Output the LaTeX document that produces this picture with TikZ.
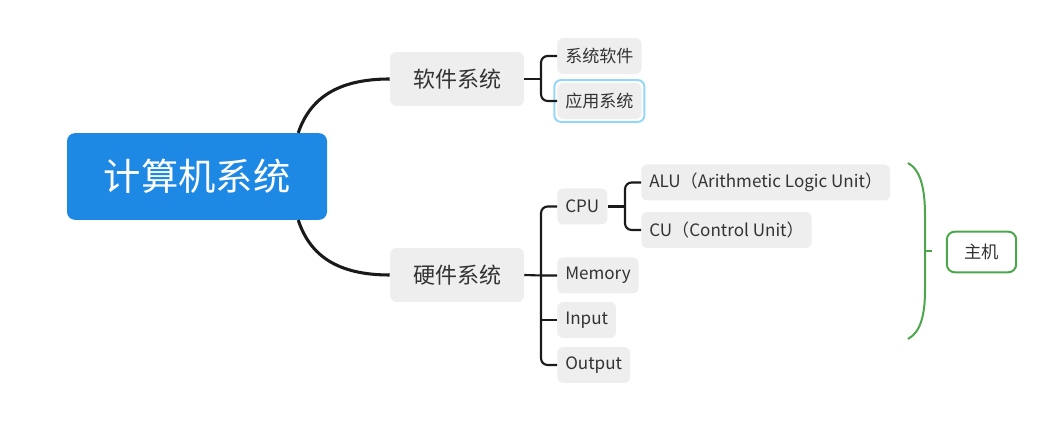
\documentclass[tikz,border=0pt]{standalone}
\usepackage{fontspec}
\setmainfont{Noto Sans CJK SC}
\usetikzlibrary{positioning, calc, fit}
\definecolor{rootblue}{HTML}{1E88E5}
\definecolor{leafgrey}{HTML}{EEEEEE}
\definecolor{selblue}{HTML}{94D6F7}
\definecolor{hostgreen}{HTML}{4CA64C}
\definecolor{inkgrey}{HTML}{333333}
\definecolor{linkblack}{HTML}{1A1A1A}

\begin{document}
\begin{tikzpicture}[x=0.75pt,y=-0.75pt,
  rootbox/.style={fill=rootblue,text=white,rounded corners=6pt,minimum width=195pt,minimum height=65pt,font=\fontsize{28}{30}\selectfont},
  mainbox/.style={fill=leafgrey,text=inkgrey,rounded corners=5pt,minimum width=100.5pt,minimum height=40.5pt,font=\fontsize{16.5}{18}\selectfont},
  leafbox/.style={fill=leafgrey,text=inkgrey,rounded corners=4.5pt,anchor=west,inner xsep=6pt,minimum height=27pt,font=\fontsize{12.8}{14}\selectfont},
  hostbox/.style={draw=hostgreen,line width=1.5pt,text=inkgrey,rounded corners=6pt,minimum width=52pt,minimum height=30.5pt,font=\fontsize{13}{15}\selectfont},
  bigline/.style={draw=linkblack,line width=2.3pt},
  subline/.style={draw=linkblack,line width=1.6pt,rounded corners=5pt}]
\useasboundingbox (0,0) rectangle (1051,427);
% Root and the two main branches
\node[rootbox](root) at (197,176.5){计算机系统};
\node[mainbox](soft) at (457,79){软件系统};
\node[mainbox](hard) at (457,275){硬件系统};
\draw[bigline] (root.north east) ++(-29,0) coordinate(rt) .. controls (310,98) and (338,79) .. (soft.west);
\draw[bigline] (root.south east) ++(-29,0) coordinate(rb) .. controls (310,256) and (338,275) .. (hard.west);
% Software leaves
\node[leafbox](sysw) at (557,56){系统软件};
\node[leafbox](app) at (557,101){应用系统};
\node[draw=selblue,line width=1.5pt,rounded corners=5pt,inner sep=2pt,fit=(app)](appsel){};
\coordinate (sj) at (541,79);
\draw[subline] (soft.east) -- (sj);
\draw[subline] (sysw.west) -| (sj) |- (app.west);
% Hardware leaves
\node[leafbox](cpu) at (557,206.5){CPU};
\node[leafbox](mem) at (557,275.5){Memory};
\node[leafbox](inp) at (557,320){Input};
\node[leafbox](outp) at (557,365){Output};
\coordinate (hj) at (541,275.5);
\draw[subline] (hard.east) -- (hj) -- (mem.west);
\draw[subline] (cpu.west) -| (hj) |- (outp.west);
\draw[subline] (inp.west) -- (inp.west -| hj);
% CPU parts
\node[leafbox](alu) at (641,182.5){ALU（Arithmetic Logic Unit）};
\node[leafbox](cu) at (641,230){CU（Control Unit）};
\coordinate (cj) at (625,206.5);
\draw[subline] (cpu.east) -- (cj);
\draw[subline] (alu.west) -| (cj) |- (cu.west);
% Host brace
\node[hostbox](host) at (981.5,252){主机};
\coordinate (bt) at (908,163);
\coordinate (bb) at (908,339);
\coordinate (bm) at (925,251);
\draw[hostgreen,line width=1.5pt] (bt) .. controls (921,170) and (925,190) .. (925,215) -- (925,290) .. controls (925,314) and (921,332) .. (bb);
\draw[hostgreen,line width=1.5pt] (bm) -- ++(7,0);
\end{tikzpicture}
\end{document}
